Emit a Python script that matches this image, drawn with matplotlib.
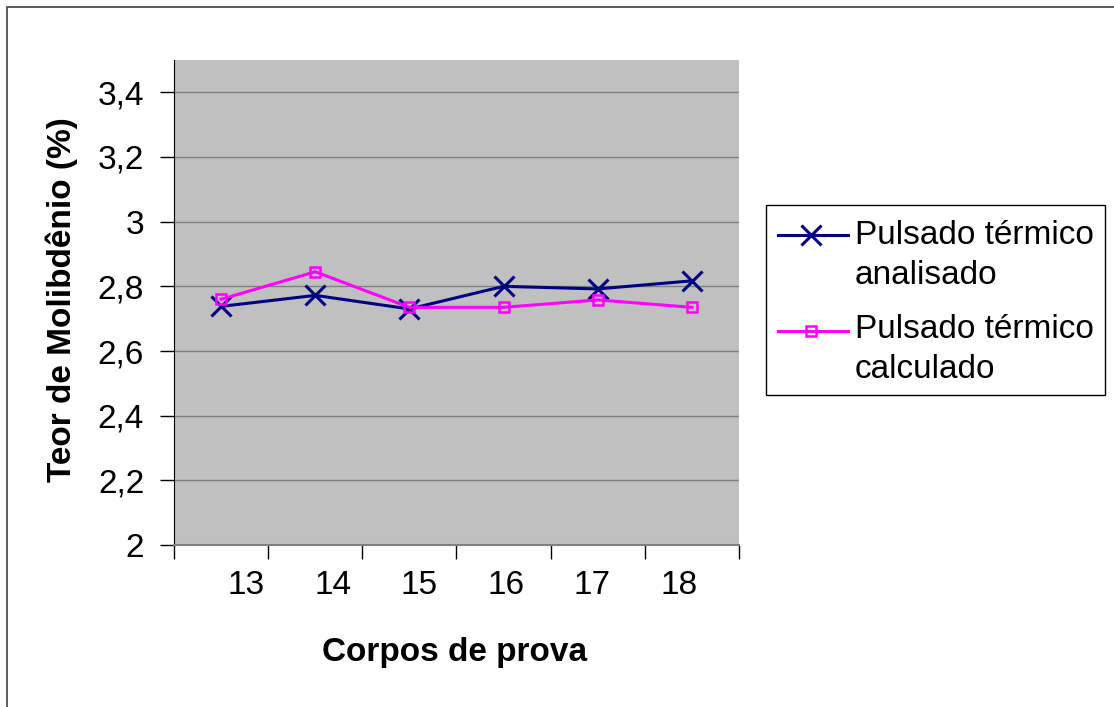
import numpy as np
import matplotlib.pyplot as plt
from matplotlib.patches import Rectangle
from matplotlib.lines import Line2D

corpos = ["13", "14", "15", "16", "17", "18"]
analisado = [2.738, 2.772, 2.730, 2.800, 2.792, 2.817]
calculado = [2.760, 2.845, 2.735, 2.735, 2.758, 2.735]
y_ticks = [2.0, 2.2, 2.4, 2.6, 2.8, 3.0, 3.2, 3.4]
y_labels = ["2", "2,2", "2,4", "2,6", "2,8", "3", "3,2", "3,4"]

W, H = 1114, 707
plt.rcParams['font.family'] = ['Liberation Sans', 'DejaVu Sans']
fig = plt.figure(figsize=(W / 100, H / 100), dpi=100)

# eixo em coordenadas de pixel
ax = fig.add_axes([174 / W, 1 - 545 / H, (739 - 174) / W, (545 - 60) / H])
ax.set_facecolor('#c0c0c0')

x = np.arange(len(corpos))
ax.plot(x, analisado, color='#000080', lw=2.2, marker='x', ms=15, mew=2.2, zorder=3)
ax.plot(x, calculado, color='#ff00ff', lw=2.2, marker='s', ms=7, mew=1.8,
        mfc='none', mec='#ff00ff', zorder=3)

ax.set_xlim(-0.5, len(corpos) - 0.5)
ax.set_ylim(2.0, 3.5)
ax.set_yticks(y_ticks)
ax.set_yticklabels(y_labels, fontsize=24)
ax.grid(axis='y', color='#808080', lw=1)
ax.set_axisbelow(True)

# ticks do eixo x nas divisas das categorias
ax.set_xticks(np.arange(len(corpos) + 1) - 0.5)
ax.set_xticklabels([])
ax.tick_params(axis='both', direction='out', length=10, width=1, color='black')
ax.tick_params(axis='y', pad=11.5)

for side in ['top', 'right']:
    ax.spines[side].set_visible(False)
ax.spines['left'].set_color('black')
ax.spines['bottom'].set_color('#808080')
ax.spines['bottom'].set_linewidth(1.5)

# rotulos das categorias
lab_px = np.linspace(246, 679, len(corpos))
for lbl, px in zip(corpos, lab_px):
    fig.text(px / W, 1 - 585 / H, lbl, fontsize=24, ha='center', va='center')

fig.text(455 / W, 1 - 652 / H, "Corpos de prova", fontsize=24, fontweight='bold',
         ha='center', va='center')
fig.text(62 / W, 1 - 300 / H, "Teor de Molibdênio (%)", fontsize=24, fontweight='bold',
         ha='center', va='center', rotation=90)

# moldura externa
fig.patches.append(Rectangle((7 / W, -0.1), 1.2, 1 - 7 / H + 0.1, transform=fig.transFigure,
                             fill=False, ec='#404040', lw=1.2))

# legenda
fig.patches.append(Rectangle((766 / W, 1 - 395 / H), (1105 - 766) / W, (395 - 205) / H,
                             transform=fig.transFigure, fill=False, ec='black', lw=1))
fig.lines.append(Line2D([778 / W, 811 / W, 848 / W], [1 - 235 / H] * 3,
                        transform=fig.transFigure, color='#000080', lw=2.2, marker='x',
                        ms=15, mew=2.2, markevery=[1]))
fig.lines.append(Line2D([778 / W, 811 / W, 848 / W], [1 - 331 / H] * 3,
                        transform=fig.transFigure, color='#ff00ff', lw=2.2, marker='s',
                        ms=7, mew=1.8, mfc='none', markevery=[1]))
fig.text(855 / W, 1 - 235 / H, "Pulsado térmico", fontsize=24, va='center')
fig.text(855 / W, 1 - 275 / H, "analisado", fontsize=24, va='center')
fig.text(855 / W, 1 - 330 / H, "Pulsado térmico", fontsize=24, va='center')
fig.text(855 / W, 1 - 369 / H, "calculado", fontsize=24, va='center')

fig.savefig("out.png", dpi=100, facecolor='white')
